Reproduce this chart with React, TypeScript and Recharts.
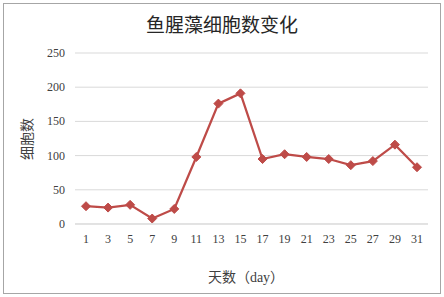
import { LineChart, Line, XAxis, YAxis, CartesianGrid } from 'recharts'

const days = ['1', '3', '5', '7', '9', '11', '13', '15', '17', '19', '21', '23', '25', '27', '29', '31']
const cells = [26, 24, 28, 8, 22, 98, 176, 191, 95, 102, 98, 95, 86, 92, 116, 83]
const yTicks = [0, 50, 100, 150, 200, 250]

const data = days.map((day, i) => ({ day, cells: cells[i] }))

const red = '#be4b48'
const serif = '"Liberation Serif", "Noto Sans CJK SC", serif'

function Diamond(props: any) {
  const { cx, cy } = props
  if (cx == null || cy == null) return null
  const r = 4.5
  return (
    <polygon
      points={`${cx},${cy - r} ${cx + r},${cy} ${cx},${cy + r} ${cx - r},${cy}`}
      fill={red}
      stroke={red}
    />
  )
}

function XTick(props: any) {
  const { x, y, payload } = props
  return (
    <text x={x} y={y + 13} textAnchor="middle" fontSize={12} fill="#404040" fontFamily={serif}>
      {payload.value}
    </text>
  )
}

function YTick(props: any) {
  const { x, y, payload } = props
  return (
    <text x={x} y={y + 4} textAnchor="end" fontSize={12} fill="#404040" fontFamily={serif}>
      {payload.value}
    </text>
  )
}

function App() {
  return (
    <div
      style={{
        position: 'fixed',
        left: 0,
        top: 0,
        width: 444,
        height: 297,
        background: '#fff',
      }}
    >
      <div
        style={{
          position: 'absolute',
          left: 3,
          top: 3,
          width: 436,
          height: 289,
          border: '1px solid #a6a6a6',
        }}
      />
      <LineChart
        width={444}
        height={297}
        data={data}
        margin={{ top: 53, right: 16, bottom: 43, left: 0 }}
        style={{ position: 'absolute', left: 0, top: 0 }}
      >
        <text x={222} y={32} textAnchor="middle" fontSize={19} fill="#262626" fontFamily={serif}>
          鱼腥藻细胞数变化
        </text>
        <text
          x={32}
          y={139}
          textAnchor="middle"
          fontSize={14}
          fill="#404040"
          fontFamily={serif}
          transform="rotate(-90 32 139)"
        >
          细胞数
        </text>
        <text x={246} y={282} textAnchor="middle" fontSize={14} fill="#404040" fontFamily={serif}>
          天数（day）
        </text>
        <CartesianGrid vertical={false} stroke="#d9d9d9" />
        <XAxis
          dataKey="day"
          height={30}
          padding={{ left: 11, right: 11 }}
          axisLine={{ stroke: '#d9d9d9' }}
          tickLine={false}
          interval={0}
          tick={<XTick />}
          tickMargin={0}
        />
        <YAxis
          width={75}
          domain={[0, 250]}
          ticks={yTicks}
          axisLine={false}
          tickLine={false}
          tick={<YTick />}
          tickMargin={4}
        />
        <Line
          type="linear"
          dataKey="cells"
          stroke={red}
          strokeWidth={2.25}
          dot={<Diamond />}
          activeDot={false}
          isAnimationActive={false}
        />
      </LineChart>
    </div>
  )
}

export default App
